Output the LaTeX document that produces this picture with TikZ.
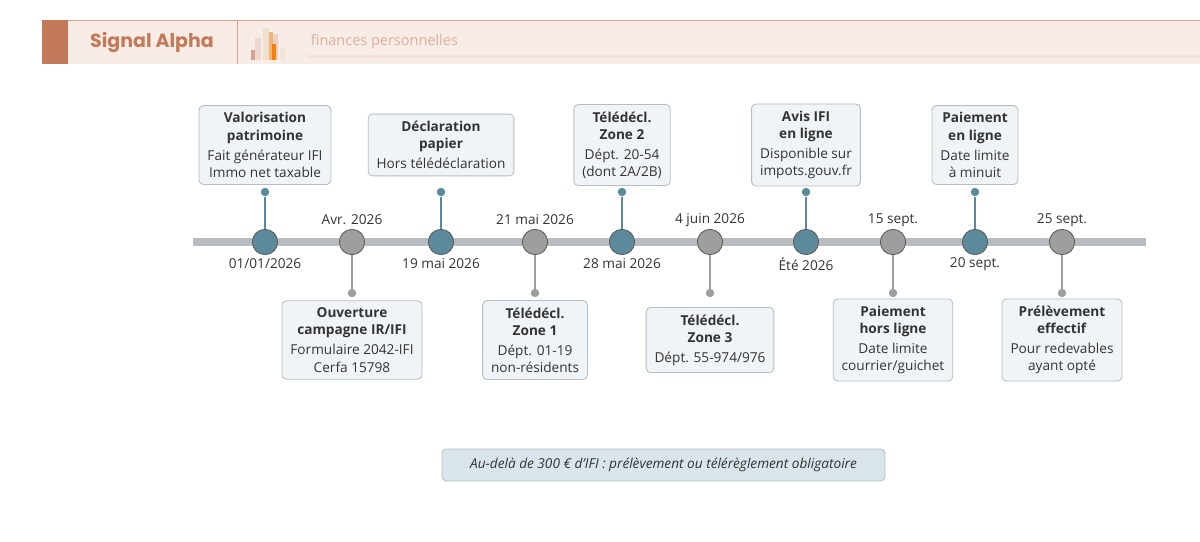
\documentclass[tikz,border=0pt]{standalone}
\usepackage{fontspec}
\setmainfont{Open Sans}
\newfontfamily\titlefont{Poppins}
\usetikzlibrary{positioning}
\definecolor{accent}{HTML}{C47A5A}
\definecolor{band}{HTML}{F7ECE6}
\definecolor{teal}{HTML}{5B8A9B}
\definecolor{greyev}{HTML}{9E9E9E}
\definecolor{axis}{HTML}{B8BCC0}
\definecolor{boxfill}{HTML}{F1F4F7}
\definecolor{boxline}{HTML}{B4BEC6}
\definecolor{ink}{HTML}{333333}
\definecolor{notefill}{HTML}{D9E5EA}

\begin{document}
\begin{tikzpicture}[
    x=0.025cm, y=-0.025cm,
    font=\fontsize{9.7}{12.2}\selectfont, text=ink,
    box/.style={rectangle, draw=boxline, fill=boxfill, rounded corners=3pt, align=center, inner xsep=6pt, inner ysep=5pt, line width=0.6pt},
    hi/.style={circle, draw=ink!80, fill=teal, minimum size=18pt, inner sep=0pt, line width=0.6pt},
    lo/.style={circle, draw=ink!80, fill=greyev, minimum size=18pt, inner sep=0pt, line width=0.6pt},
    dot/.style={circle, fill=#1, minimum size=6pt, inner sep=0pt},
    stem/.style={line width=1pt, draw=#1}
]
\useasboundingbox (0,0) rectangle (1200,541);

% Header
\fill[band] (42,20) rectangle (1200,64);
\draw[accent!70, line width=0.6pt] (42,20) -- (1200,20);
\fill[accent] (42,20) rectangle (68,64);
\draw[accent!70, line width=0.6pt] (237,20) -- (237,64);
\node[font=\titlefont\bfseries\fontsize{13.5}{15}\selectfont, text=accent] (brand) at (152,43) {Signal Alpha};
\fill[accent!30] (255,38) rectangle (261,60);
\fill[accent!70] (251,50) rectangle (255,60);
\fill[brown!25] (263,28) rectangle (269,60);
\fill[orange!60!brown!60] (269,32) rectangle (273,60);
\fill[accent!35] (273,34) rectangle (278,60);
\fill[orange!80!brown] (272,44) rectangle (276,60);
\fill[brown!20] (280,48) rectangle (286,60);
\node[anchor=west, text=accent!60!white, font=\fontsize{10.3}{12}\selectfont] (sub) at (306,42) {finances personnelles};
\fill[accent!22] (307,55) rectangle (1200,58);

% Axis
\draw[axis, line width=5pt] (193,242) coordinate (a0) -- (1146,242) coordinate (a1);

% Events above
\foreach \x/\n/\s in {265/e1/{\textbf{Valorisation}\\\textbf{patrimoine}\\[2pt]Fait générateur IFI\\Immo net taxable},
    441/e3/{\textbf{Déclaration}\\\textbf{papier}\\[2pt]Hors télédéclaration},
    622/e5/{\textbf{Télédécl.}\\\textbf{Zone 2}\\[2pt]Dépt. 20-54\\(dont 2A/2B)},
    806/e7/{\textbf{Avis IFI}\\\textbf{en ligne}\\[2pt]Disponible sur\\impots.gouv.fr},
    975/e9/{\textbf{Paiement}\\\textbf{en ligne}\\[2pt]Date limite\\à minuit}}{
  \node[box] (\n b) at (\x,145) {\s};
  \node[dot=teal] (\n d) at (\x,192) {};
  \node[hi] (\n) at (\x,242) {};
  \draw[stem=teal] (\n d) -- (\n);
}
\node (e1l) at (265,264) {01/01/2026};
\node (e3l) at (441,264) {19 mai 2026};
\node (e5l) at (622,264) {28 mai 2026};
\node (e7l) at (806,264) {Été 2026};
\node (e9l) at (975,264) {20 sept.};

% Events below
\foreach \x/\n/\d/\s in {352/e2/Avr. 2026/{\textbf{Ouverture}\\\textbf{campagne IR/IFI}\\[2pt]Formulaire 2042-IFI\\Cerfa 15798},
    535/e4/21 mai 2026/{\textbf{Télédécl.}\\\textbf{Zone 1}\\[2pt]Dépt. 01-19\\non-résidents},
    710/e6/4 juin 2026/{\textbf{Télédécl.}\\\textbf{Zone 3}\\[2pt]Dépt. 55-974/976},
    893/e8/15 sept./{\textbf{Paiement}\\\textbf{hors ligne}\\[2pt]Date limite\\courrier/guichet},
    1062/e10/25 sept./{\textbf{Prélèvement}\\\textbf{effectif}\\[2pt]Pour redevables\\ayant opté}}{
  \node (\n l) at (\x,220) {\d};
  \node[lo] (\n) at (\x,242) {};
  \node[dot=greyev] (\n d) at (\x,293) {};
  \draw[stem=greyev] (\n) -- (\n d);
  \node[box] (\n b) at (\x,340) {\s};
}

% Note
\node[box, fill=notefill, minimum width=443*0.025cm, minimum height=32*0.025cm, font=\itshape\fontsize{9.7}{11.5}\selectfont] (note) at (663.5,465) {Au-delà de 300 € d'IFI : prélèvement ou télérèglement obligatoire};
\end{tikzpicture}
\end{document}
